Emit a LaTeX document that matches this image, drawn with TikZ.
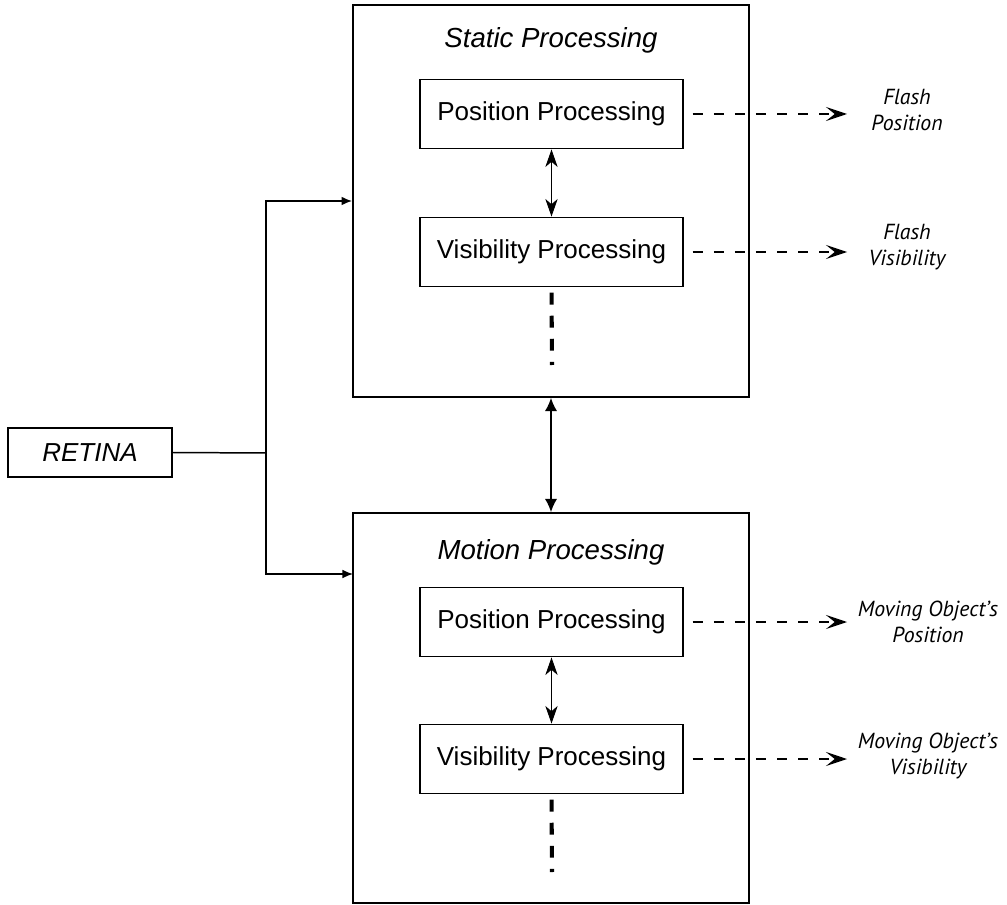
\documentclass[tikz,border=0pt]{standalone}
\usepackage{fontspec}
\setmainfont{Liberation Sans}
\newfontfamily\notefont{PT Sans}
\usepackage{tikz}
\usetikzlibrary{arrows.meta,positioning}

\begin{document}
\begin{tikzpicture}[x=0.02cm,y=-0.02cm,font=\fontsize{14.8}{17}\selectfont,every node/.style={draw,line width=1.1pt},every path/.style={line width=0.85pt},every text node part/.style={align=center},
	stagebox/.style={minimum width=7.92cm},
	procbox/.style={minimum width=5.26cm,minimum height=1.38cm},
	titletext/.style={draw=none,font=\fontsize{15.7}{18}\selectfont\itshape},
	notetext/.style={draw=none,font=\notefont\itshape\fontsize{12.4}{14.4}\selectfont},
	resultarrow/.style={dash pattern=on 5.7pt off 6.3pt,shorten <=5pt,-{Stealth[length=12pt,width=8pt,inset=5pt]}},
	linkarrow/.style={line width=0.5pt,{Stealth[length=10pt,width=7pt,inset=3pt]}-{Stealth[length=10pt,width=7pt,inset=3pt]}},
	trail/.style={line width=2.3pt,dash pattern=on 6.8pt off 6.3pt,shorten <=3pt},
	feed/.style={-{Latex[length=6pt,width=5pt]}}]
	\useasboundingbox (0,0) rectangle (1007,905);

	\node (static) at (551,201) [stagebox,minimum height=7.84cm] {};
	\node (motion) at (551,708) [stagebox,minimum height=7.8cm] {};
	\node (retina) at (90,452.5) [minimum width=3.28cm,minimum height=0.98cm] {\itshape RETINA};

	\node (stitle) at (551,40) [titletext] {Static Processing};
	\node (mtitle) at (551,552) [titletext] {Motion Processing};

	\node (spos) at (551.5,114) [procbox] {Position Processing};
	\node (svis) at (551.5,252) [procbox] {Visibility Processing};
	\node (mpos) at (551.5,622) [procbox] {Position Processing};
	\node (mvis) at (551.5,759) [procbox] {Visibility Processing};

	\node (flashpos) at (907,110) [notetext] {Flash\\Position};
	\node (flashvis) at (907,247) [notetext] {Flash\\Visibility};
	\node (movpos) at (928,622) [notetext] {Moving Object’s\\Position};
	\node (movvis) at (928,756) [notetext] {Moving Object’s\\Visibility};

	\coordinate (split) at (266,453);
	\coordinate (motionin) at (353,574);
	\coordinate (tipx) at (847,0);
	\coordinate (sdots) at (552,365);
	\coordinate (mdots) at (552,872);

	\draw (retina.east) -- (split);
	\draw[feed] (split) |- (static.west);
	\draw[feed] (split) |- (motionin);
	\draw[{Latex[length=7.5pt,width=7pt]}-{Latex[length=7.5pt,width=7pt]}] (static.south) -- (motion.north);

	\draw[linkarrow] (spos.south) -- (svis.north);
	\draw[linkarrow] (mpos.south) -- (mvis.north);
	\draw[trail] (svis.south) -- (sdots);
	\draw[trail] (mvis.south) -- (mdots);

	\draw[resultarrow] (spos.east) -- (spos.east -| tipx);
	\draw[resultarrow] (svis.east) -- (svis.east -| tipx);
	\draw[resultarrow] (mpos.east) -- (mpos.east -| tipx);
	\draw[resultarrow] (mvis.east) -- (mvis.east -| tipx);
\end{tikzpicture}
\end{document}
